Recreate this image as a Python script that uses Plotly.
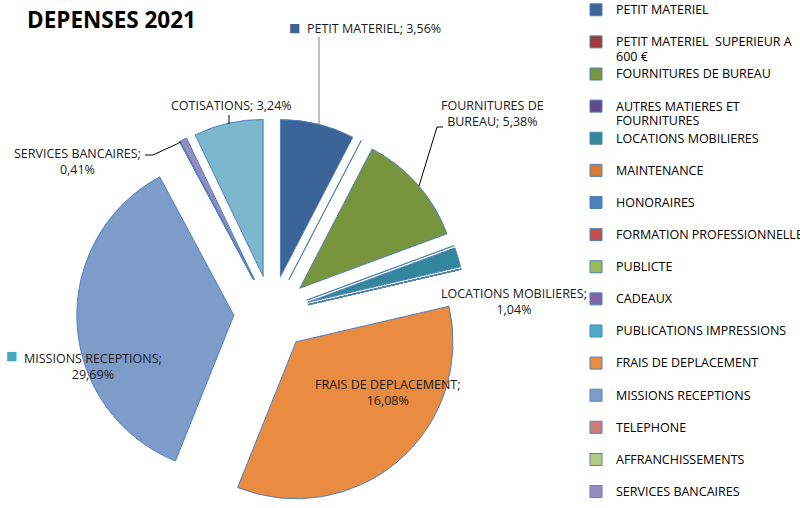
import textwrap
import plotly.graph_objects as go

W, H = 800, 508

# ---------------- data ----------------
categories = [
    "PETIT MATERIEL",
    "PETIT MATERIEL  SUPERIEUR A 600 €",
    "FOURNITURES DE BUREAU",
    "AUTRES MATIERES ET FOURNITURES",
    "LOCATIONS MOBILIERES",
    "MAINTENANCE",
    "HONORAIRES",
    "FORMATION PROFESSIONNELLE",
    "PUBLICTE",
    "CADEAUX",
    "PUBLICATIONS IMPRESSIONS",
    "FRAIS DE DEPLACEMENT",
    "MISSIONS RECEPTIONS",
    "TELEPHONE",
    "AFFRANCHISSEMENTS",
    "SERVICES BANCAIRES",
    "COTISATIONS",
]
# slice sizes (share of the pie, %)
slice_values = [7.6, 0, 11.7, 0, 2.0, 0, 0, 0, 0, 0, 0, 34.6, 36.0, 0, 0, 0.7, 7.1]
# percentages printed in the data labels
label_percents = [3.56, None, 5.38, None, 1.04, None, None, None, None, None, None,
                  16.08, 29.69, None, None, 0.41, 3.24]
colors = [
    "#3B6499", "#9E3B39", "#78943D", "#5F4A8B", "#33879D", "#DB7A35",
    "#4F81BD", "#C0504D", "#9BBB59", "#8064A2", "#4BACC6", "#E98B40",
    "#7E9CCA", "#D07C7A", "#B4CC82", "#9A8ABF", "#7BB8CE",
]

# ---------------- layout helpers ----------------
def pxx(x):
    return x / W


def pxy(y):
    return 1 - y / H


LEG_FONT = 11.2   # controls legend row spacing
TXT_FONT = 12.5   # glyph size
FAMILY = "Open Sans"


def legend_name(name):
    lines = textwrap.wrap(name, 27)
    if len(lines) == 1:
        lines.append("\u00a0")
    return "<br>".join(f"<span style='font-size:{TXT_FONT}px'>{l}</span>" for l in lines)


legend_names = [legend_name(c) for c in categories]

# label placement: center px, wrap width
label_layout = {
    "PETIT MATERIEL": (374, 28, 40),
    "FOURNITURES DE BUREAU": (492, 113, 16),
    "LOCATIONS MOBILIERES": (514, 301, 22),
    "FRAIS DE DEPLACEMENT": (387, 392, 22),
    "MISSIONS RECEPTIONS": (92.5, 366, 22),
    "SERVICES BANCAIRES": (77, 161, 20),
    "COTISATIONS": (231.5, 106, 40),
}
key_squares = {"PETIT MATERIEL": (294, 28, "#3B6499"), "MISSIONS RECEPTIONS": (11, 356, "#46A6BF")}
leaders = [
    ((319, 37), (319, 125), "#7F7F7F"),
    ((437, 127), (443, 127), "#000000"),
    ((437, 127), (419, 186), "#000000"),
    ((145, 155), (153, 155), "#000000"),
    ((153, 155), (181, 142), "#000000"),
    ((229, 115), (229, 124), "#000000"),
]

fig = go.Figure(go.Pie(
    labels=legend_names,
    values=slice_values,
    sort=False,
    direction="clockwise",
    rotation=0,
    pull=0.24,
    marker=dict(colors=colors, line=dict(color="#4F81BD", width=1)),
    textinfo="none",
    hoverinfo="value",
    domain=dict(x=[76.8 / W, 466.2 / W], y=[0, 389.6 / H]),
))

annotations = []
for name, pct in zip(categories, label_percents):
    if pct is None or name not in label_layout:
        continue
    cx, cy, wrap = label_layout[name]
    txt = f"{name}; " + f"{pct:.2f}".replace(".", ",") + "%"
    txt = "<br>".join(textwrap.wrap(txt, wrap))
    annotations.append(dict(
        x=pxx(cx), y=pxy(cy), xref="paper", yref="paper", text=txt,
        showarrow=False, xanchor="center", yanchor="middle", align="center",
        font=dict(family=FAMILY, size=TXT_FONT, color="#1A1A1A"),
    ))
for name, (sx, sy, col) in key_squares.items():
    annotations.append(dict(
        x=pxx(sx), y=pxy(sy), xref="paper", yref="paper", text="■",
        showarrow=False, xanchor="center", yanchor="middle",
        font=dict(family="DejaVu Sans", size=12, color=col),
    ))

shapes = [
    dict(type="line", xref="paper", yref="paper",
         x0=pxx(a[0]), y0=pxy(a[1]), x1=pxx(b[0]), y1=pxy(b[1]),
         line=dict(color=c, width=1))
    for a, b, c in leaders
]

fig.update_layout(
    width=W, height=H,
    margin=dict(l=0, r=0, t=0, b=0, autoexpand=False),
    paper_bgcolor="white",
    plot_bgcolor="white",
    title=dict(text="<b>DEPENSES 2021</b>", x=27 / W, xanchor="left", xref="paper",
               y=1 - 20 / H, yanchor="middle", yref="container",
               font=dict(family=FAMILY, size=22.5, color="#000000")),
    legend=dict(x=576 / W, xanchor="left", y=1 + 4 / H, yanchor="top", valign="top",
                maxheight=700,
                font=dict(family=FAMILY, size=LEG_FONT, color="#000000"),
                bgcolor="rgba(0,0,0,0)", itemclick=False, itemdoubleclick=False),
    annotations=annotations,
    shapes=shapes,
)

fig.write_html("out.html", config={"displayModeBar": False},
               post_script="document.body.style.margin='0px';")
